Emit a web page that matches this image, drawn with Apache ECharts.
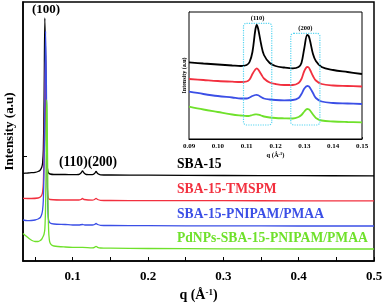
<!DOCTYPE html>
<html>
<head>
<meta charset="utf-8">
<script src="https://cdn.jsdelivr.net/npm/echarts@6/dist/echarts.min.js"></script>
<style>html,body{margin:0;padding:0;background:#fff}#c{width:385px;height:303px}</style>
</head>
<body>
<div id="c"></div>
<script>
// ---------- DATA ----------
var seriesNames = ['SBA-15', 'SBA-15-TMSPM', 'SBA-15-PNIPAM/PMAA', 'PdNPs-SBA-15-PNIPAM/PMAA'];
var seriesColors = ['#000000', '#f2303f', '#3b4fe6', '#6fe12b'];
var mainTicks = [0.05, 0.1, 0.15, 0.2, 0.25, 0.3, 0.35, 0.4, 0.45, 0.5];
var mainTickLabels = [0.1, 0.2, 0.3, 0.4, 0.5];
var insetTickLabels = [0.09, 0.10, 0.11, 0.12, 0.13, 0.14, 0.15];
var peakLabels = ['(100)', '(110)(200)'];

// main SAXS curves [q, intensity a.u.]
var mainSBA15 = [[0.034,87.7],[0.040,88],[0.045,88.3],[0.050,88.7],[0.054,89.5],[0.057,91],[0.059,94],[0.060,98],[0.061,111],[0.062,161],[0.063,243],[0.064,201],[0.065,121],[0.066,96],[0.067,90],[0.068,88],[0.070,87],[0.075,86.5],[0.090,86.5],[0.100,86.3],[0.108,86.5],[0.111,88],[0.113,90],[0.115,88],[0.118,86.5],[0.126,86.3],[0.129,87.5],[0.131,89.5],[0.133,87.5],[0.137,86.2],[0.150,86],[0.200,85.8],[0.300,85.5],[0.400,85.3],[0.500,85.2]];
var mainTMSPM = [[0.034,62.7],[0.045,62.5],[0.054,63],[0.057,64],[0.059,66],[0.060,69],[0.061,78],[0.062,111],[0.063,171],[0.064,206],[0.065,141],[0.066,81],[0.067,66],[0.068,62.5],[0.070,61.5],[0.090,61],[0.108,61],[0.111,61.5],[0.113,62.5],[0.115,61.5],[0.126,60.8],[0.129,61.5],[0.131,62.7],[0.133,61.5],[0.137,60.7],[0.150,60.5],[0.200,60.4],[0.300,60.3],[0.400,60.2],[0.500,60.2]];
var mainPNIPAM = [[0.034,41],[0.040,40.3],[0.045,40.5],[0.050,41],[0.054,42],[0.057,43.5],[0.059,47],[0.060,51],[0.061,61],[0.062,96],[0.063,161],[0.064,230],[0.065,181],[0.066,91],[0.067,51],[0.068,41],[0.070,38],[0.075,37],[0.090,36.5],[0.100,36],[0.108,36],[0.113,36.5],[0.116,36],[0.126,36],[0.129,36.5],[0.131,37.5],[0.133,36.5],[0.137,35.7],[0.150,35.5],[0.200,35.3],[0.300,35.1],[0.400,35],[0.500,35]];
var mainPdNPs = [[0.034,27.5],[0.038,25],[0.042,22.5],[0.046,20.5],[0.050,19.5],[0.054,19.5],[0.057,20.5],[0.059,22],[0.060,23.5],[0.061,25],[0.062,27],[0.063,32],[0.064,56],[0.065,121],[0.0655,161],[0.066,151],[0.067,71],[0.068,31],[0.069,21],[0.070,18],[0.072,16],[0.075,15],[0.090,14],[0.100,13.7],[0.113,13.7],[0.126,13.2],[0.129,13.7],[0.131,14.7],[0.133,13.7],[0.137,13],[0.150,12.8],[0.200,12.5],[0.300,12.2],[0.400,12],[0.500,12]];

// inset curves: shared q grid, intensities per sample
var insetQ = [0.090,0.095,0.100,0.105,0.108,0.110,0.111,0.112,0.113,0.1135,0.114,0.115,0.116,0.118,0.120,0.123,0.126,0.128,0.129,0.130,0.131,0.1315,0.132,0.133,0.134,0.136,0.140,0.145,0.150];
var insetSBA15 = [76.7,75.5,74.5,73.5,73,74,77,87,109,114,110,95,84,76,73,71.5,70.7,72,76,91,104,103,98,85,78,72,69,67,65];
var insetTMSPM = [60,59,58,57.3,57,57.5,59.5,65,69.5,70.7,69.5,65,60.5,56.5,55,54,54,56,60,68,72,71.5,69,63,58.5,55,53.5,53,52.5];
var insetPNIPAM = [47.3,45,43,41.5,40.5,40.5,41.5,43,44,44.2,43.7,42,40.5,39.5,39,38.7,39,41,45,50.5,53,52.7,51,46,41,37.5,36,35.5,35];
var insetPdNPs = [32.3,29.5,27,24.5,23.5,23,23.2,24,24.6,24.7,24.4,23.5,22.5,21.5,21,20.7,20.5,22,24,27.5,30,29.7,28.5,24.5,21,18.5,17.5,17,16.7];
// highlighted reflection boxes [qStart, qEnd, iLow, iHigh]
var boxLabels = ['(110)', '(200)'];
var boxes = [[0.1089, 0.1187, 14, 115.7], [0.1253, 0.1354, 14, 105.7]];

// ---------- CHART ----------
var FF = '"Liberation Serif","Times New Roman",serif';
function pair(q, v) { return q.map(function (x, i) { return [x, v[i]]; }); }
var mainData = [mainSBA15, mainTMSPM, mainPNIPAM, mainPdNPs];
var insetData = [insetSBA15, insetTMSPM, insetPNIPAM, insetPdNPs];

var series = [];
mainData.forEach(function (d, i) {
  series.push({
    type: 'line', xAxisIndex: 0, yAxisIndex: 0, data: d, showSymbol: false,
    smooth: 0.3, lineStyle: { color: seriesColors[i], width: 1.3 }, z: 2 + i, silent: true
  });
});
insetData.forEach(function (v, i) {
  series.push({
    type: 'line', xAxisIndex: 1, yAxisIndex: 1, data: pair(insetQ, v), showSymbol: false,
    smooth: 0.35, lineStyle: { color: seriesColors[i], width: 1.8 }, z: 20 + i, silent: true
  });
});
series.push({
  type: 'custom', xAxisIndex: 1, yAxisIndex: 1, z: 30, silent: true,
  data: boxes.map(function (b, i) { return [b[0], b[1], b[2], b[3], i]; }),
  renderItem: function (params, api) {
    var p0 = api.coord([api.value(0), api.value(3)]);
    var p1 = api.coord([api.value(1), api.value(2)]);
    return {
      type: 'group',
      children: [
        { type: 'rect', shape: { x: p0[0], y: p0[1], width: p1[0] - p0[0], height: p1[1] - p0[1], r: 3 },
          style: { fill: 'none', stroke: '#55d4f0', lineWidth: 1.2, lineDash: [1.2, 1.2] } },
        { type: 'text', x: (p0[0] + p1[0]) / 2, y: p0[1] - 1,
          style: { text: boxLabels[api.value(4)], fill: '#000', font: 'bold 6.5px ' + FF, textAlign: 'center', textVerticalAlign: 'bottom' } }
      ]
    };
  }
});

var legendY = [165.7, 190.7, 215, 239];
var graphics = seriesNames.map(function (n, i) {
  return { type: 'text', left: 177, top: legendY[i] - 8, z: 50,
    style: { text: n, fill: seriesColors[i], font: 'bold 13.6px ' + FF } };
});
graphics.push({ type: 'text', left: 32, top: 3, z: 50, style: { text: peakLabels[0], fill: '#000', font: 'bold 13px ' + FF } });
graphics.push({ type: 'text', left: 59, top: 155, z: 50, style: { text: peakLabels[1], fill: '#000', font: 'bold 13.6px ' + FF } });

var chart = echarts.init(document.getElementById('c'), null, { renderer: 'canvas' });
chart.setOption({
  animation: false,
  backgroundColor: '#fff',
  grid: [
    { left: 23, right: 11, top: 2, bottom: 42, show: true, borderColor: '#000', borderWidth: 1.5, backgroundColor: 'transparent', z: 1, outerBoundsMode: 'none', containLabel: false },
    { left: 189, right: 23, top: 12, bottom: 164, show: true, borderColor: '#000', borderWidth: 1, backgroundColor: '#fff', z: 10, outerBoundsMode: 'none', containLabel: false }
  ],
  xAxis: [
    { type: 'value', gridIndex: 0, min: 0.034, max: 0.5,
      name: '{n|q (Å}{s|-1}{n|)}', nameLocation: 'middle', nameGap: 27,
      nameTextStyle: { rich: { n: { fontFamily: FF, fontWeight: 'bold', fontSize: 14, color: '#000' }, s: { fontFamily: FF, fontWeight: 'bold', fontSize: 9, color: '#000', verticalAlign: 'top', padding: [0, 0, 6, 0] } } },
      axisLine: { show: true, lineStyle: { color: '#000', width: 1.5 } },
      axisTick: { show: true, inside: true, length: 4, customValues: mainTicks, lineStyle: { color: '#000', width: 1 } },
      axisLabel: { customValues: mainTickLabels, margin: 9, color: '#000', fontFamily: FF, fontWeight: 'bold', fontSize: 13,
        formatter: function (v) { return (+v).toFixed(1); } },
      splitLine: { show: false } },
    { type: 'value', gridIndex: 1, min: 0.09, max: 0.15, interval: 0.01,
      name: '{n|q (Å}{s|-1}{n|)}', nameLocation: 'middle', nameGap: 12,
      nameTextStyle: { rich: { n: { fontFamily: FF, fontWeight: 'bold', fontSize: 6.5, color: '#000' }, s: { fontFamily: FF, fontWeight: 'bold', fontSize: 4.5, color: '#000', padding: [0, 0, 3, 0] } } },
      axisLine: { show: true, lineStyle: { color: '#000', width: 1 } },
      axisTick: { show: true, inside: true, length: 2, lineStyle: { color: '#000', width: 0.8 } },
      axisLabel: { customValues: insetTickLabels, margin: 4, color: '#000', fontFamily: FF, fontWeight: 'bold', fontSize: 7,
        formatter: function (v) { return (+v).toFixed(2); } },
      splitLine: { show: false } }
  ],
  yAxis: [
    { type: 'value', gridIndex: 0, min: 0, max: 259,
      name: 'Intensity (a.u)', nameLocation: 'middle', nameGap: 7,
      nameTextStyle: { fontFamily: FF, fontWeight: 'bold', fontSize: 13, color: '#000' },
      axisLine: { show: true, lineStyle: { color: '#000', width: 1.5 } },
      axisTick: { show: true, inside: true, length: 4, customValues: [105], lineStyle: { color: '#000', width: 1 } },
      axisLabel: { show: false }, splitLine: { show: false } },
    { type: 'value', gridIndex: 1, min: 0, max: 127,
      name: 'Intensity (a.u)', nameLocation: 'middle', nameGap: 2,
      nameTextStyle: { fontFamily: FF, fontWeight: 'bold', fontSize: 6, color: '#000' },
      axisLine: { show: true, lineStyle: { color: '#000', width: 1 } },
      axisTick: { show: false }, axisLabel: { show: false }, splitLine: { show: false } }
  ],
  series: series,
  graphic: graphics
});
</script>
</body>
</html>
